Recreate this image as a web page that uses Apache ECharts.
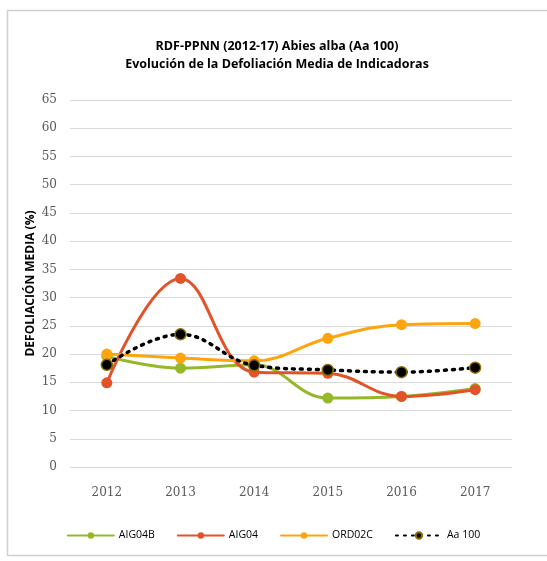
<!DOCTYPE html>
<html><head><meta charset="utf-8">
<script src="https://cdn.jsdelivr.net/npm/echarts@6/dist/echarts.min.js"></script>
<style>html,body{margin:0;padding:0;background:#fff}#c{width:547px;height:561px}</style>
</head><body><div id="c"></div>
<script>
var years = ['2012','2013','2014','2015','2016','2017'];
var AIG04B = [19.6, 17.5, 18.1, 12.2, 12.5, 13.9];
var AIG04 = [14.9, 33.4, 16.8, 16.6, 12.5, 13.7];
var ORD02C = [20.0, 19.3, 18.8, 22.8, 25.2, 25.4];
var Aa100 = [18.1, 23.5, 18.0, 17.2, 16.8, 17.6];
var seriesNames = ['AIG04B','AIG04','ORD02C','Aa 100'];
var colors = ['#95b82a','#e2532a','#fda50f','#000000'];

var chart = echarts.init(document.getElementById('c'));
function mk(name, data, color, dotted){
  return {
    name: name, type: 'line', data: data, smooth: 0.4,
    symbol: 'circle', symbolSize: 11,
    lineStyle: {color: color, width: dotted ? 3.5 : 3, type: dotted ? [2,6] : 'solid', cap: 'round'},
    itemStyle: {color: color, borderColor: dotted ? '#8a6d00' : color, borderWidth: dotted ? 1.5 : 0},
    emphasis: {disabled: true}
  };
}
chart.setOption({
  animation: false,
  textStyle: {fontFamily: 'Lato, sans-serif'},
  graphic: [{type: 'rect', shape: {x: 7.5, y: 10.5, width: 560, height: 545}, style: {fill: 'none', stroke: '#d0d0d0', lineWidth: 1.5}, silent: true}],
  title: {
    text: 'RDF-PPNN (2012-17) Abies alba (Aa 100)\nEvolución de la Defoliación Media de Indicadoras',
    left: 272, textAlign: 'center', top: 32,
    textStyle: {fontFamily: 'Open Sans, sans-serif', fontSize: 12.5, fontWeight: 'bold', color: '#000', lineHeight: 18}
  },
  legend: {
    bottom: 15, left: 'center', itemWidth: 46, itemHeight: 8, itemGap: 22,
    data: seriesNames,
    textStyle: {fontFamily: 'Open Sans, sans-serif', fontSize: 10.5, color: '#000'}
  },
  grid: {left: 70, right: 35, top: 100, bottom: 94},
  xAxis: {
    type: 'category', data: years, boundaryGap: true,
    axisLine: {show: false}, axisTick: {show: false},
    axisLabel: {fontFamily: 'DejaVu Serif, serif', fontSize: 12, color: '#595959', margin: 20}
  },
  yAxis: {
    type: 'value', min: 0, max: 65, interval: 5,
    name: 'DEFOLIACIÓN MEDIA (%)', nameLocation: 'middle', nameGap: 33, nameRotate: 90,
    nameMoveOverlap: false,
    nameTextStyle: {fontFamily: 'Open Sans, sans-serif', fontSize: 12, fontWeight: 'bold', color: '#000'},
    axisLine: {show: false}, axisTick: {show: false},
    axisLabel: {fontFamily: 'DejaVu Serif, serif', fontSize: 12, color: '#595959', margin: 13},
    splitLine: {lineStyle: {color: '#d9d9d9', width: 1}}
  },
  series: [
    mk('AIG04B', AIG04B, colors[0], false),
    mk('AIG04', AIG04, colors[1], false),
    mk('ORD02C', ORD02C, colors[2], false),
    mk('Aa 100', Aa100, colors[3], true)
  ]
});
</script></body></html>
